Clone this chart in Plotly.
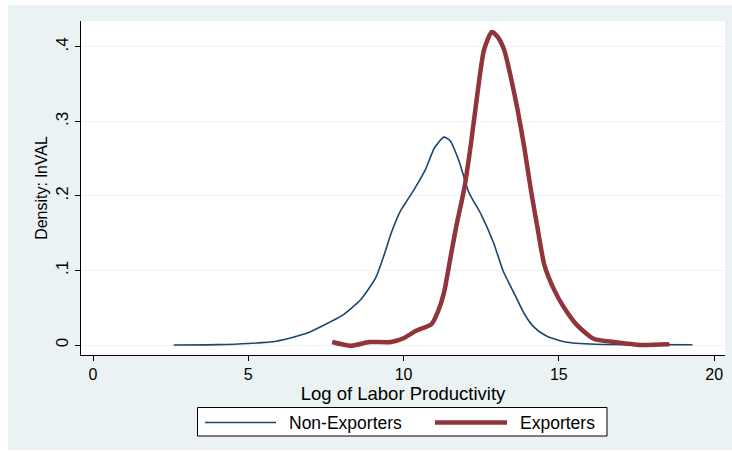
import plotly.graph_objects as go

# Data
non_x = [2.6, 4.0, 5.0, 5.9, 6.5, 6.9, 7.4, 8.0, 8.6, 9.1, 9.4, 9.6, 9.9, 10.1, 10.4, 10.7,
         11.0, 11.3, 11.5, 11.8, 12.1, 12.5, 12.9, 13.2, 13.6, 13.9, 14.2, 14.6, 15.2, 16.2,
         17.5, 19.3]
non_y = [0.0, 0.0005, 0.002, 0.005, 0.011, 0.016, 0.026, 0.039, 0.060, 0.090, 0.124, 0.150,
         0.180, 0.193, 0.213, 0.235, 0.265, 0.279, 0.274, 0.245, 0.205, 0.175, 0.137, 0.100,
         0.066, 0.041, 0.024, 0.012, 0.004, 0.001, 0.0005, 0.0003]

exp_x = [7.7, 8.3, 8.9, 9.6, 10.0, 10.4, 10.9, 11.1, 11.3, 11.5, 11.7, 11.95, 12.16, 12.38,
         12.59, 12.84, 13.02, 13.24, 13.45, 13.67, 13.88, 14.1, 14.31, 14.53, 14.85, 15.17,
         15.6, 16.14, 16.78, 17.65, 18.56]
exp_y = [0.004, -0.001, 0.004, 0.004, 0.009, 0.019, 0.028, 0.044, 0.070, 0.115, 0.160, 0.209,
         0.267, 0.338, 0.396, 0.420, 0.414, 0.396, 0.360, 0.316, 0.267, 0.208, 0.158, 0.108,
         0.074, 0.050, 0.026, 0.008, 0.004, 0.000, 0.001]

series_names = ["Non-Exporters", "Exporters"]
x_ticks = [0, 5, 10, 15, 20]
y_ticks = [0, 0.1, 0.2, 0.3, 0.4]
y_ticktext = ["0", ".1", ".2", ".3", ".4"]

BLUE = "#1a476f"
RED = "#90353b"
BG = "#eaf2f3"
FONT = "Liberation Sans, Arial, sans-serif"
WIDTHS = [1.6, 4.5]
COLORS = [BLUE, RED]

fig = go.Figure()
for xs, ys, name, col, w in zip([non_x, exp_x], [non_y, exp_y], series_names, COLORS, WIDTHS):
    fig.add_trace(go.Scatter(x=xs, y=ys, mode="lines", name=name, showlegend=False,
                             line=dict(color=col, width=w, shape="spline", smoothing=0.6)))

L, R, T, B = 81, 7, 21, 99
W, H = 732, 454
pw, ph = W - L - R, H - T - B

def px_x(px):
    return (px - L) / pw

def px_y(py):
    return (H - B - py) / ph

shapes = [
    dict(type="rect", xref="paper", yref="paper", layer="below",
         x0=px_x(8), x1=px_x(733), y0=px_y(450), y1=px_y(5),
         fillcolor=BG, line=dict(width=0)),
    dict(type="rect", xref="paper", yref="paper", layer="below",
         x0=0, x1=1, y0=0, y1=1, fillcolor="white", line=dict(width=0)),
    # legend box
    dict(type="rect", xref="paper", yref="paper", layer="above",
         x0=px_x(197.5), x1=px_x(607), y0=px_y(436), y1=px_y(407.5),
         fillcolor="white", line=dict(color="black", width=1)),
]

# legend keys (line samples) and labels
key_x = [(205, 276), (435, 507)]
label_x = [286.5, 518]
key_y = 422.5
annotations = []
for (a, b), lx, name, col, w in zip(key_x, label_x, series_names, COLORS, WIDTHS):
    shapes.append(dict(type="line", xref="paper", yref="paper", layer="above",
                       x0=px_x(a), x1=px_x(b), y0=px_y(key_y), y1=px_y(key_y),
                       line=dict(color=col, width=w)))
    annotations.append(dict(text=name, xref="paper", yref="paper", x=px_x(lx), y=px_y(key_y),
                            xanchor="left", yanchor="middle", showarrow=False,
                            font=dict(size=17.5, color="black", family=FONT)))

fig.update_layout(
    width=W, height=H,
    margin=dict(l=L, r=R, t=T, b=B),
    paper_bgcolor="white",
    plot_bgcolor="white",
    font=dict(family=FONT, size=16, color="black"),
    shapes=shapes,
    annotations=annotations,
    showlegend=False,
    xaxis=dict(range=[-0.387, 20.35], tickvals=x_ticks, showgrid=False, zeroline=False,
               showline=True, linecolor="black", linewidth=1, ticks="outside", ticklen=5,
               tickcolor="black", title=dict(text="Log of Labor Productivity", standoff=0,
                                             font=dict(size=18.5)),
               tickfont=dict(size=16)),
    yaxis=dict(range=[-0.0134, 0.4348], tickvals=y_ticks, ticktext=y_ticktext,
               showgrid=True, gridcolor=BG, gridwidth=1, zeroline=False,
               showline=True, linecolor="black", linewidth=1, ticks="outside", ticklen=5,
               tickcolor="black", tickangle=-90,
               title=dict(text="Density: lnVAL", standoff=1, font=dict(size=16)),
               tickfont=dict(size=17)),
)

fig.write_html("out.html")
